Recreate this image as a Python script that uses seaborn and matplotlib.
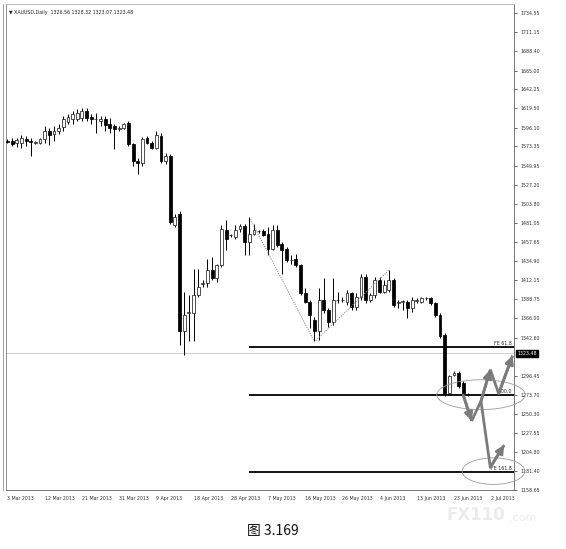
import matplotlib
matplotlib.use("Agg")
import matplotlib.pyplot as plt
import matplotlib.transforms as mtrans
from matplotlib.patches import Ellipse
import seaborn as sns
import numpy as np
import pandas as pd

sns.set_theme(style="white")
plt.rcParams['font.family'] = ['DejaVu Sans']

# ---------------- data ----------------
opens = [1580, 1580, 1577, 1578, 1582, 1580, 1578, 1578, 1582, 1592, 1588, 1592, 1597, 1603, 1607,
         1607, 1608, 1616, 1609, 1606, 1604, 1607, 1600, 1598, 1595, 1596, 1602, 1576, 1556, 1554,
         1583, 1578, 1572, 1586, 1556,
         1562, 1478, 1492, 1350, 1372, 1372, 1394, 1407, 1408, 1424, 1414, 1430, 1472, 1466, 1464,
         1474, 1477, 1458, 1468, 1471, 1471, 1468, 1450, 1472, 1456, 1450, 1436, 1438, 1430, 1396,
         1386, 1364, 1350, 1388, 1376, 1362, 1388, 1388, 1386, 1396, 1380, 1392, 1416, 1388, 1394,
         1412, 1398, 1400, 1412, 1384, 1386, 1386, 1378, 1387, 1386, 1390, 1390, 1384, 1370, 1346,
         1276, 1298, 1300, 1288, 1274]
highs = [1582, 1583, 1584, 1587, 1586, 1583, 1580, 1584, 1598, 1596, 1598, 1600, 1610, 1612, 1616,
         1618, 1620, 1620, 1612, 1614, 1610, 1610, 1608, 1600, 1598, 1602, 1604, 1578, 1560, 1585,
         1586, 1580, 1592, 1590, 1566,
         1564, 1492, 1496, 1398, 1394, 1426, 1426, 1412, 1438, 1440, 1432, 1478, 1484, 1468, 1478,
         1480, 1480, 1488, 1480, 1473, 1474, 1476, 1478, 1478, 1458, 1452, 1442, 1444, 1432, 1402,
         1388, 1368, 1402, 1414, 1378, 1414, 1398, 1392, 1400, 1398, 1396, 1420, 1420, 1396, 1416,
         1416, 1412, 1424, 1414, 1388, 1388, 1388, 1392, 1390, 1392, 1392, 1392, 1386, 1372, 1348,
         1298, 1302, 1302, 1290, 1276]
lows = [1577, 1574, 1573, 1572, 1574, 1562, 1576, 1576, 1578, 1575, 1580, 1588, 1592, 1600, 1600,
        1604, 1604, 1604, 1600, 1590, 1598, 1592, 1590, 1570, 1592, 1594, 1574, 1550, 1540, 1550,
        1576, 1570, 1570, 1554, 1552,
        1480, 1476, 1334, 1322, 1338, 1338, 1392, 1404, 1404, 1412, 1410, 1428, 1448, 1464, 1462,
        1470, 1442, 1442, 1466, 1469, 1465, 1442, 1448, 1452, 1420, 1434, 1432, 1428, 1394, 1384,
        1354, 1338, 1340, 1372, 1356, 1358, 1384, 1386, 1382, 1376, 1376, 1388, 1384, 1386, 1390,
        1396, 1396, 1398, 1380, 1378, 1376, 1366, 1374, 1384, 1384, 1388, 1382, 1368, 1342, 1272,
        1274, 1296, 1282, 1272, 1272]
closes = [1579, 1576, 1581, 1583, 1580, 1579, 1578, 1582, 1592, 1587, 1592, 1596, 1606, 1609, 1613,
          1614, 1616, 1608, 1607, 1606, 1607, 1599, 1596, 1594, 1596, 1600, 1576, 1556, 1553, 1582,
          1578, 1572, 1587, 1556, 1562,
          1482, 1488, 1350, 1370, 1373, 1394, 1404, 1408, 1424, 1414, 1430, 1474, 1462, 1466, 1472,
          1477, 1458, 1468, 1472, 1471, 1467, 1450, 1472, 1454, 1448, 1436, 1436, 1430, 1396, 1386,
          1370, 1350, 1388, 1376, 1362, 1388, 1388, 1388, 1396, 1380, 1392, 1416, 1388, 1394, 1412,
          1398, 1406, 1412, 1382, 1386, 1386, 1378, 1388, 1387, 1390, 1390, 1384, 1370, 1344, 1274,
          1296, 1300, 1284, 1276, 1274]

date_labels = ["3 Mar 2013", "12 Mar 2013", "21 Mar 2013", "31 Mar 2013", "9 Apr 2013",
               "18 Apr 2013", "28 Apr 2013", "7 May 2013", "16 May 2013", "26 May 2013",
               "4 Jun 2013", "13 Jun 2013", "23 Jun 2013", "2 Jul 2013"]
bars_per_label = 8

price_ticks = [1734.55, 1711.15, 1688.40, 1665.00, 1642.25, 1619.50, 1596.10, 1573.35, 1549.95,
               1527.20, 1503.80, 1481.05, 1457.65, 1434.90, 1412.15, 1388.75, 1366.00, 1342.60,
               1296.45, 1273.70, 1250.30, 1227.55, 1204.80, 1181.40, 1158.65]

current_price = 1323.48
header = "\u25BC XAUUSD,Daily  1326.56 1328.32 1323.07 1323.48"

# Fibonacci expansion anchor points (bar index, price): A, B, C
fe_index = [52, 66, 82]
fe_price = [1488.0, 1337.5, 1424.0]
fe_ratios = [0.618, 1.0, 1.618]
fe_labels = ["FE 61.8", "100.0", "FE 161.8"]

# hand-drawn projection arrows (bar index, price)
arrow_a = [(98.0, 1273), (99.8, 1242)]
arrow_b = [(99.8, 1242), (101.8, 1266), (103.8, 1304)]
arrow_c = [(103.8, 1304), (105.6, 1275), (108.6, 1321)]
arrow_d = [(101.8, 1266), (103.8, 1186)]
arrow_e = [(103.8, 1186), (106.8, 1213)]

# ellipses (center index, center price, width in bars, height in price)
ellipses = [(101.8, 1273.7, 19.0, 36.0), (104.5, 1181.4, 13.5, 32.0)]

df = pd.DataFrame({"o": opens, "h": highs, "l": lows, "c": closes})
df["i"] = np.arange(len(df))

# ---------------- figure ----------------
W, H = 566, 549
fig = plt.figure(figsize=(W / 100, H / 100), dpi=100)
ax = fig.add_axes([6 / W, 1 - 490 / H, (514 - 6) / W, (490 - 4) / H])
ax.set_facecolor("white")

# current price line
ax.axhline(current_price, color="#c8c8c8", lw=0.6, zorder=1)

# wicks
ax.vlines(df["i"], df["l"], df["h"], color="black", lw=0.7, zorder=2)
# bodies
up = df["c"] >= df["o"]
body_bottom = np.minimum(df["o"], df["c"])
body_h = np.maximum(np.abs(df["c"] - df["o"]), 0.6)
ax.bar(df["i"][up], body_h[up], bottom=body_bottom[up], width=0.62,
       color="white", edgecolor="#222222", linewidth=0.55, zorder=3)
ax.bar(df["i"][~up], body_h[~up], bottom=body_bottom[~up], width=0.62,
       color="black", edgecolor="black", linewidth=0.55, zorder=3)

xmax = 108.9
ax.set_xlim(-0.32, xmax)
ax.set_ylim(1162.15, 1745.35)

# zigzag dotted line
sns.lineplot(x=fe_index, y=fe_price, ax=ax, color="#8a8a8a", lw=0.7,
             linestyle=(0, (1.2, 1.2)), estimator=None, sort=False, zorder=4)

# FE levels
A, B, C = fe_price
for r, lab in zip(fe_ratios, fe_labels):
    lvl = C - r * (A - B)
    ax.hlines(lvl, fe_index[0], xmax, color="black", lw=1.3, zorder=5)
    ax.text(xmax - 0.4, lvl + 1.2, lab, ha="right", va="bottom", fontsize=3.4,
            color="#222222", zorder=6)

# ellipses
for cx, cy, ew, eh in ellipses:
    ax.add_patch(Ellipse((cx, cy), ew, eh, fill=False, edgecolor="#9a9a9a", lw=0.6,
                         clip_on=False, zorder=6))

# arrows
acol = "#7b7b7b"
def seg(points, head):
    xs = [p[0] for p in points]
    ys = [p[1] for p in points]
    ax.plot(xs, ys, color=acol, lw=2.0, solid_capstyle="butt",
            solid_joinstyle="miter", zorder=7, clip_on=False)
    if head:
        ax.annotate("", xy=points[-1], xytext=points[-2],
                    arrowprops=dict(arrowstyle="-|>,head_width=0.4,head_length=0.8",
                                    color=acol, lw=2.0, mutation_scale=6,
                                    shrinkA=0, shrinkB=0), zorder=8, annotation_clip=False)

seg(arrow_a, True)
seg(arrow_b, True)
seg(arrow_c, True)
seg(arrow_d, False)
seg(arrow_e, True)

# axes styling
ax.yaxis.tick_right()
ax.set_yticks(price_ticks)
ax.set_yticklabels([f"{p:.2f}" for p in price_ticks])
ax.set_xticks(np.arange(len(date_labels)) * bars_per_label)
ax.set_xticklabels(date_labels, ha="left")
ax.tick_params(axis="both", which="both", labelsize=3.4, colors="#333333",
               length=2.5, width=0.5, pad=1.5, direction="out")
ax.tick_params(axis="x", pad=1.5)
ax.tick_params(axis="y", pad=2.5)
for s in ["left", "right", "bottom", "top"]:
    ax.spines[s].set_visible(True)
    ax.spines[s].set_linewidth(0.6)
ax.spines["top"].set_color("#b0b0b0")
ax.spines["left"].set_color("#808080")
ax.spines["right"].set_color("#606060")
ax.spines["bottom"].set_color("#606060")
ax.grid(False)

# left double border
fig.add_artist(plt.Line2D([3 / W, 3 / W], [1 - 490 / H, 1 - 4 / H], color="#909090", lw=0.6))

# current price box
trans = mtrans.blended_transform_factory(ax.transAxes, ax.transData)
ax.text(1.006, current_price, f"{current_price:.2f}", transform=trans, ha="left", va="center",
        fontsize=3.4, color="white",
        bbox=dict(boxstyle="square,pad=0.25", facecolor="black", edgecolor="black"),
        clip_on=False, zorder=9)

# header
ax.text(0.006, 0.988, header, transform=ax.transAxes, ha="left", va="top",
        fontsize=3.4, color="#222222")

# caption & watermark
fig.text(247 / W, 1 - 531 / H, "图 3.169", ha="left", va="center", fontsize=10,
         family=["Noto Sans CJK SC", "DejaVu Sans"], color="#111111")
fig.text(446 / W, 1 - 515 / H, "FX110", ha="left", va="center", fontsize=12,
         fontweight="bold", color="#ececec", family=["DejaVu Sans"])
fig.text(510 / W, 1 - 518 / H, ".com", ha="left", va="center", fontsize=8,
         color="#ececec", family=["DejaVu Sans"])

fig.savefig("out.png", dpi=100, facecolor="white")
